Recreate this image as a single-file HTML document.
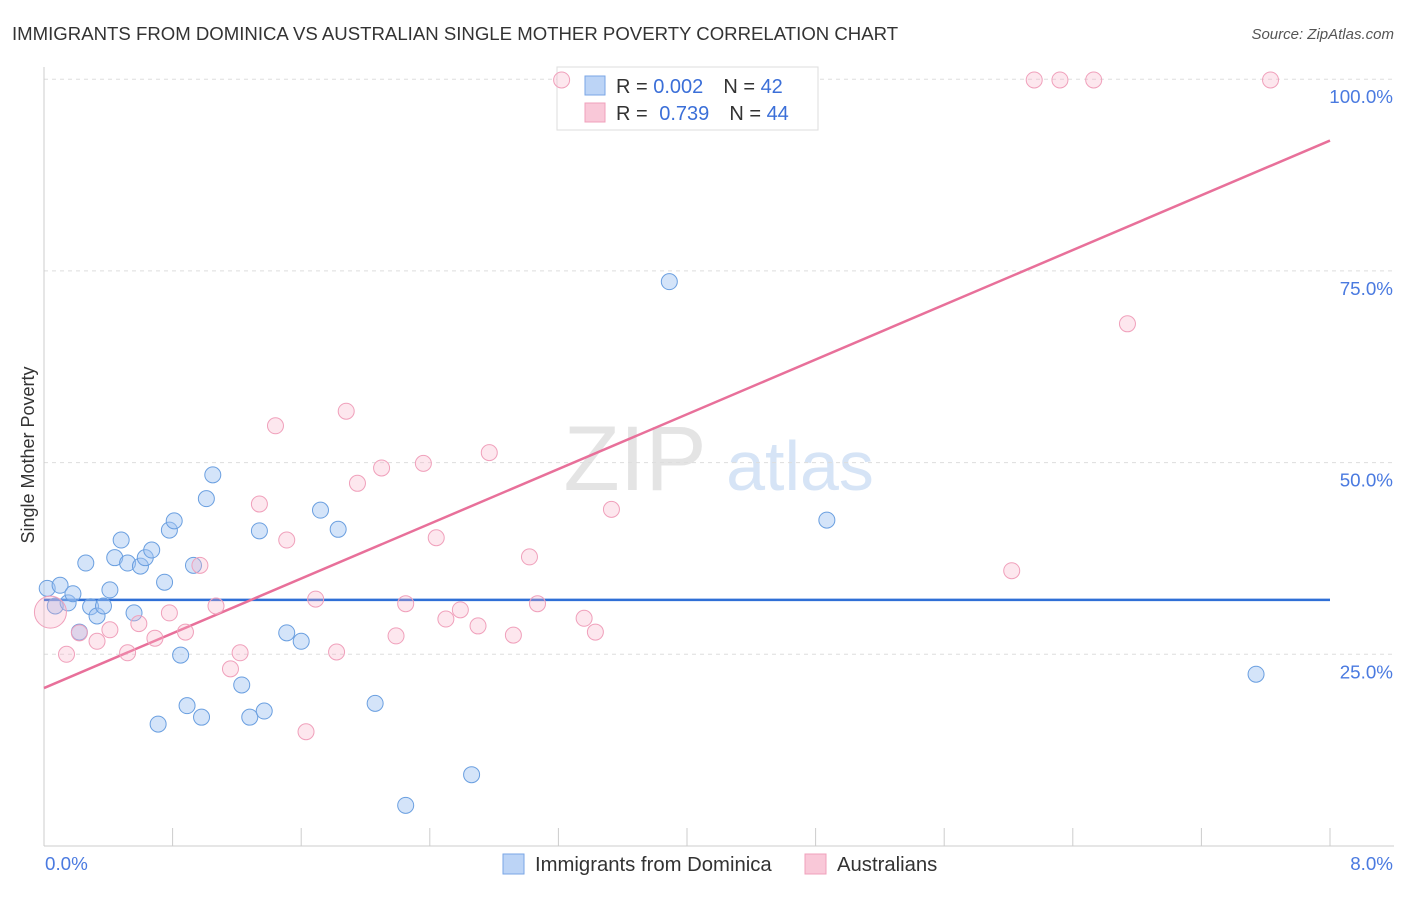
<!DOCTYPE html>
<html><head><meta charset="utf-8"><style>
body{margin:0;background:#fff;font-family:"Liberation Sans",sans-serif;}
svg text{font-family:"Liberation Sans",sans-serif;}
</style></head><body>
<svg id="chart" width="1406" height="892">
<text x="12" y="40" font-size="18.6" fill="#333">IMMIGRANTS FROM DOMINICA VS AUSTRALIAN SINGLE MOTHER POVERTY CORRELATION CHART</text>
<text x="1394" y="39" font-size="15" fill="#555" font-style="italic" text-anchor="end">Source: ZipAtlas.com</text>
<text x="0" y="0" font-size="18" fill="#333" transform="translate(34,455) rotate(-90)" text-anchor="middle">Single Mother Poverty</text>
<g><text x="635" y="490" font-size="92" fill="#e4e4e4" font-family="Liberation Serif" text-anchor="middle">ZIP</text><text x="800" y="490" font-size="70" fill="#d6e4f6" text-anchor="middle">atlas</text></g>
<g id="grid"></g><g id="axes"></g><g id="lines"></g>
<g>
<rect x="557" y="67" width="261" height="63" fill="#fff" stroke="#ddd"/>
<rect x="585" y="76" width="20" height="19" fill="#bcd4f6" stroke="#7aa6e6"/>
<rect x="585" y="103" width="20" height="19" fill="#f9c8d8" stroke="#f0a0bb"/>
<text x="616" y="93" font-size="20" fill="#333">R = <tspan fill="#3b6fd8">0.002</tspan><tspan dx="20">N = </tspan><tspan fill="#3b6fd8">42</tspan></text>
<text x="616" y="120" font-size="20" fill="#333">R = <tspan fill="#3b6fd8" dx="6">0.739</tspan><tspan dx="20">N = </tspan><tspan fill="#3b6fd8">44</tspan></text>
</g>
<g id="pts"></g>
<g>
<rect x="503" y="854" width="21" height="20" fill="#bcd4f6" stroke="#7aa6e6"/>
<text x="535" y="871" font-size="20.3" fill="#333">Immigrants from Dominica</text>
<rect x="805" y="854" width="21" height="20" fill="#f9c8d8" stroke="#f0a0bb"/>
<text x="837" y="871" font-size="20.3" fill="#333">Australians</text>
</g>
</svg>
<script>
const xTicksPct=[0,0.8,1.6,2.4,3.2,4.0,4.8,5.6,6.4,7.2,8.0];
const yTickVals=[25,50,75,100];
const yTickLabels=["25.0%","50.0%","75.0%","100.0%"];
const xEndLabels=["0.0%","8.0%"];
const blueX=[0.02,0.10,0.07,0.15,0.18,0.22,0.26,0.29,0.33,0.37,0.41,0.44,0.48,0.52,0.56,0.60,0.63,0.67,0.71,0.75,0.78,0.81,0.85,0.89,0.93,0.98,1.01,1.05,1.23,1.28,1.34,1.37,1.51,1.60,1.72,1.83,2.06,2.25,2.66,3.89,4.87,7.54];
const blueY=[33.6,34.0,31.3,31.7,32.9,27.9,36.9,31.2,30.0,31.3,33.4,37.6,39.9,36.9,30.4,36.5,37.6,38.6,15.9,34.4,41.2,42.4,24.9,18.3,36.6,16.8,45.3,48.4,21.0,16.8,41.1,17.6,27.8,26.7,43.8,41.3,18.6,5.3,9.3,73.6,42.5,22.4];
const pinkX=[0.04,0.14,0.22,0.33,0.41,0.52,0.59,0.69,0.78,0.88,0.97,1.07,1.16,1.22,1.34,1.44,1.51,1.63,1.69,1.82,1.88,1.95,2.10,2.19,2.25,2.36,2.44,2.50,2.59,2.70,2.77,2.92,3.02,3.07,3.22,3.36,3.43,3.53,6.02,6.16,6.32,6.53,6.74,7.63];
const pinkY=[30.5,25.0,27.8,26.7,28.2,25.2,29.0,27.1,30.4,27.9,36.6,31.3,23.1,25.2,44.6,54.8,39.9,14.9,32.2,25.3,56.7,47.3,49.3,27.4,31.6,49.9,40.2,29.6,30.8,28.7,51.3,27.5,37.7,31.6,99.9,29.7,27.9,43.9,35.9,99.9,99.9,99.9,68.1,99.9];
const blueTrend=[32.1,32.1];   // y at x=0, x=8
const pinkTrend=[20.6,92.0];
const trendX=[0,8];

const X=v=>44+v*160.75, Y=v=>846-v*7.668;
const NS="http://www.w3.org/2000/svg";
function mk(tag,attrs,parent){const e=document.createElementNS(NS,tag);for(const k in attrs)e.setAttribute(k,attrs[k]);document.getElementById(parent).appendChild(e);return e;}
yTickVals.forEach((v,i)=>{
 const g=mk('line',{x1:44,x2:1394,y1:Y(v),y2:Y(v),stroke:"#ddd","stroke-dasharray":"4,4"},'grid');
 
 
 const t=mk('text',{x:1393,y:Y(v)+24,"font-size":18.8,fill:"#4a7ae0","text-anchor":"end"},'grid');t.textContent=yTickLabels[i];
 
 
});
const ax=mk('line',{x1:44,x2:44,y1:67,y2:846,stroke:"#ccc"},'axes');


const bx=mk('line',{x1:44,x2:1394,y1:846,y2:846,stroke:"#ccc"},'axes');


xTicksPct.forEach(v=>{const t=mk('line',{x1:X(v),x2:X(v),y1:828,y2:846,stroke:"#ccc"},'axes');
 
 });
[[0,45,"start"],[8,1393,"end"]].forEach((a,i)=>{const t=mk('text',{x:a[1],y:870,"font-size":18.8,fill:"#4a7ae0","text-anchor":a[2]},'axes');t.textContent=xEndLabels[i];
 
 });
blueX.forEach((x,i)=>{const c=mk('circle',{cx:X(x),cy:Y(blueY[i]),r:8,fill:"rgba(160,196,242,0.45)",stroke:"#6a9fe0","stroke-width":1},'pts');
 
 });
pinkX.forEach((x,i)=>{const c=mk('circle',{cx:X(x),cy:Y(pinkY[i]),r:i==0?16:8,fill:"rgba(247,175,200,0.3)",stroke:"#f0a0bb","stroke-width":1},'pts');
 
 });
const bl=mk('line',{x1:X(trendX[0]),x2:X(trendX[1]),y1:Y(blueTrend[0]),y2:Y(blueTrend[1]),stroke:"#2f6fd6","stroke-width":2.5},'lines');


const pl=mk('line',{x1:X(trendX[0]),x2:X(trendX[1]),y1:Y(pinkTrend[0]),y2:Y(pinkTrend[1]),stroke:"#e8709a","stroke-width":2.5},'lines');


</script>
</body></html>
